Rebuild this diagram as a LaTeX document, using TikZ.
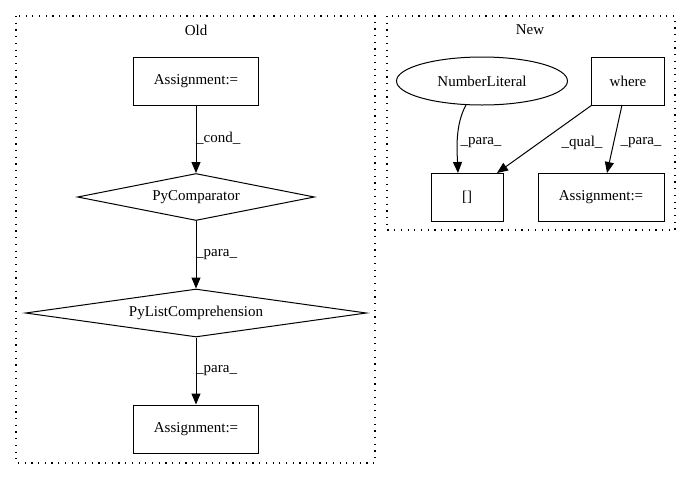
\documentclass[tikz,border=0pt]{standalone}
\usepackage{fontspec}
\setmainfont{Liberation Serif}
\usetikzlibrary{shapes.geometric,arrows.meta}
\begin{document}
\begin{tikzpicture}[x=1pt,y=-1pt,
  every node/.style={font=\fontsize{15}{17}\selectfont},
  box/.style={draw,rectangle,minimum height=48pt,inner sep=0pt,line width=1pt},
  oval/.style={draw,ellipse,minimum width=171pt,minimum height=48pt,inner sep=0pt,line width=1pt},
  cluster/.style={draw,line width=1.2pt,dash pattern=on 1.2pt off 5.5pt},
  edge/.style={-{Triangle[length=11pt,width=9pt]},line width=1pt},
  lbl/.style={font=\fontsize{15}{17}\selectfont,inner sep=0pt}]
\useasboundingbox (0,0) rectangle (691,480);
% clusters
\draw[cluster] (16,16) rectangle (375,463);
\node[lbl] (oldt) at (196,30) {Old};
\draw[cluster] (387,16) rectangle (675,230);
\node[lbl] (newt) at (530,30) {New};
% Old nodes
\node[box,minimum width=125pt] (a1) at (196,81) {Assignment:=};
\node[draw,diamond,minimum width=237pt,minimum height=47pt,inner sep=0pt,line width=1pt] (pc) at (196,197) {};
\node at (196,197) {PyComparator};
\node[draw,diamond,minimum width=341pt,minimum height=48pt,inner sep=0pt,line width=1pt] (plc) at (196,313) {};
\node at (196,313) {PyListComprehension};
\node[box,minimum width=125pt] (a2) at (196,429) {Assignment:=};
\draw[edge] (a1) -- (pc.north);
\node[lbl,anchor=west] (c1) at (196,138) {\_cond\_};
\draw[edge] (pc.south) -- (plc.north);
\node[lbl,anchor=west] (c2) at (196,255) {\_para\_};
\draw[edge] (plc.south) -- (a2);
\node[lbl,anchor=west] (c3) at (196,371) {\_para\_};
% New nodes
\node[oval] (nl) at (482,81) {NumberLiteral};
\node[box,minimum width=73pt] (wh) at (628,81) {where};
\node[box,minimum width=72pt] (br) at (467,197) {[]};
\node[box,minimum width=126pt] (a3) at (601,197) {Assignment:=};
\coordinate (nlb) at (466,105);
\coordinate (brt) at (458,173);
\draw[edge] (nlb) .. controls (455,125) and (457,150) .. (brt);
\node[lbl] (l1) at (481,143) {\_para\_};
\coordinate (wh1) at (592,105);
\coordinate (brt2) at (497,173);
\draw[edge] (wh1) -- (brt2);
\node[lbl] (l2) at (582,143) {\_qual\_};
\coordinate (wh2) at (622,105);
\coordinate (a3t) at (607,173);
\draw[edge] (wh2) -- (a3t);
\node[lbl] (l3) at (641,143) {\_para\_};
\end{tikzpicture}
\end{document}
